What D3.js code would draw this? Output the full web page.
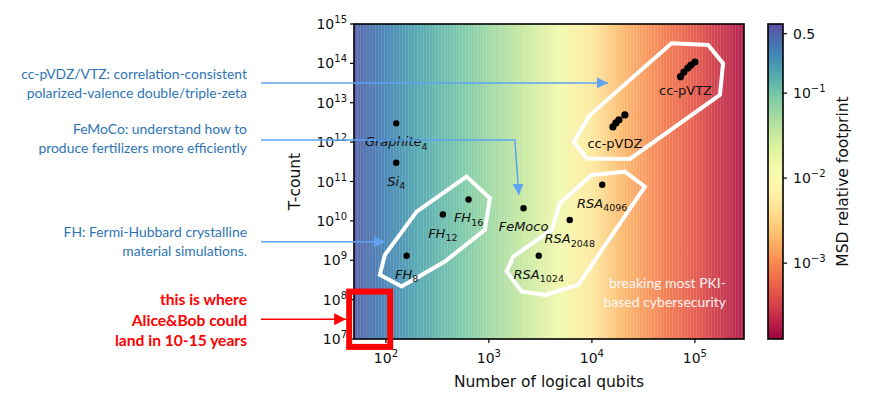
<!DOCTYPE html>
<html><head><meta charset="utf-8">
<script src="https://cdn.jsdelivr.net/npm/d3@7"></script>
<style>
body{margin:0;background:#fff;}
svg{display:block;}
</style></head>
<body>
<svg id="chart" width="874" height="401"></svg>
<script>
// ---------- DATA ----------
const pointNames = ["Graphite", "Si", "FH", "FH", "FH", "FeMoco", "RSA", "RSA", "RSA"];
const pointSubs  = ["4", "4", "8", "12", "16", "", "1024", "2048", "4096"];
const pointQubits = [126, 126, 159, 357, 635, 2170, 3050, 6100, 12600];
const pointTcount = [3.0e12, 3.0e11, 1.3e9, 1.45e10, 3.5e10, 2.1e10, 1.3e9, 1.05e10, 8.3e10];

const ccDZQubits = [16000, 17100, 18300, 20900];
const ccDZTcount = [2.43e12, 3.07e12, 3.66e12, 4.9e12];
const ccTZQubits = [72600, 78200, 85500, 91500, 100000];
const ccTZTcount = [4.6e13, 6.0e13, 7.6e13, 9.1e13, 1.08e14];

const fhHullQ = [607, 1023, 914, 374, 142, 87.4, 97.8, 199];
const fhHullT = [1.33e11, 3.77e10, 5.9e9, 9.3e8, 2.15e8, 4.26e8, 1.37e9, 1.72e10];
const rsaHullQ = [9930, 20900, 32700, 7360, 3500, 2075, 1486, 1722, 4060, 4890];
const rsaHullT = [1.47e11, 1.78e11, 7.4e10, 2.38e8, 1.32e8, 1.61e8, 5.2e8, 1.24e9, 5.9e9, 2.8e10];
const ccHullQ = [59400, 134500, 188000, 175000, 23400, 8940, 6680, 9570];
const ccHullT = [3.24e14, 2.93e14, 1.0e14, 1.58e13, 3.75e11, 3.85e11, 1.01e12, 4.9e12];

// background: MSD relative footprint read along the qubit axis
const bgQubits    = [49, 100, 200, 500, 1000, 2000, 5000, 10000, 20000, 50000, 100000, 300000];
const bgFootprint = [0.5, 0.30, 0.18, 0.10, 0.059, 0.035, 0.013, 0.0052, 0.0020, 0.00083, 0.00046, 0.00017];

const xDomain = [49, 3.0e5];
const yDomain = [1e7, 1e15];
const cbDomain = [1.28e-4, 0.65];

const xTicks = [1e2, 1e3, 1e4, 1e5];
const xTickExp = ["2", "3", "4", "5"];
const yTicks = [1e7, 1e8, 1e9, 1e10, 1e11, 1e12, 1e13, 1e14, 1e15];
const yTickExp = ["7", "8", "9", "10", "11", "12", "13", "14", "15"];
const cbTicks = [0.5, 0.1, 0.01, 0.001];
const cbTickBase = ["0.5", "10", "10", "10"];
const cbTickExp = ["", "\u22121", "\u22122", "\u22123"];

// Alice&Bob target box (qubits, T-count)
const boxQubits = [44, 110];
const boxTcount = [6.3e6, 1.6e8];

// annotation targets (data coords)
const ccArrowTarget = [14300, 3.18e13];
const feArrowElbow = [1786, 1.14e12];
const feArrowTarget = [1955, 4.57e10];
const fhArrowTarget = [98, 2.93e9];

const blueNotes = [
  ["cc-pVDZ/VTZ: correlation-consistent", "polarized-valence double/triple-zeta"],
  ["FeMoCo: understand how to", "produce fertilizers more efficiently"],
  ["FH: Fermi-Hubbard crystalline", "material simulations."]
];
const redNote = ["this is where", "Alice&Bob could", "land in 10-15 years"];
const pkiNote = ["breaking most PKI-", "based cybersecurity"];

// ---------- LAYOUT ----------
const L = 354, R = 744, T = 24, B = 339;
const cbL = 768, cbR = 783;

const svg = d3.select("#chart");
const x = d3.scaleLog().domain(xDomain).range([L, R]);
const y = d3.scaleLog().domain(yDomain).range([B, T]);
const cb = d3.scaleLog().domain(cbDomain).range([B, T]);
const color = v => d3.interpolateSpectral((Math.log10(v) - Math.log10(cbDomain[0])) / (Math.log10(cbDomain[1]) - Math.log10(cbDomain[0])));

const defs = svg.append("defs");
// background gradient
const bg = defs.append("linearGradient").attr("id", "bgGrad")
  .attr("gradientUnits", "userSpaceOnUse").attr("x1", L).attr("x2", R).attr("y1", 0).attr("y2", 0);
bgQubits.forEach((q, i) => {
  bg.append("stop").attr("offset", (x(q) - L) / (R - L)).attr("stop-color", color(bgFootprint[i]));
});
// colorbar gradient
const cg = defs.append("linearGradient").attr("id", "cbGrad")
  .attr("gradientUnits", "userSpaceOnUse").attr("x1", 0).attr("x2", 0).attr("y1", B).attr("y2", T);
d3.range(0, 1.0001, 0.05).forEach(t => cg.append("stop").attr("offset", t).attr("stop-color", d3.interpolateSpectral(t)));
// stripe texture
const pat = defs.append("pattern").attr("id", "stripes").attr("patternUnits", "userSpaceOnUse")
  .attr("width", 3).attr("height", 10);
pat.append("rect").attr("x", 0).attr("y", 0).attr("width", 1).attr("height", 10).attr("fill", "#fff").attr("opacity", 0.12);
// markers
function marker(id, col, size) {
  defs.append("marker").attr("id", id).attr("viewBox", "0 -5 10 10")
    .attr("refX", 10).attr("refY", 0).attr("markerUnits", "userSpaceOnUse")
    .attr("markerWidth", size).attr("markerHeight", size).attr("orient", "auto")
    .append("path").attr("d", "M0,-5L10,0L0,5Z").attr("fill", col);
}
marker("blueHead", "#5ea3f2", 11);
marker("redHead", "#ff0000", 12);

// plot background
svg.append("rect").attr("x", L).attr("y", T).attr("width", R - L).attr("height", B - T).attr("fill", "url(#bgGrad)");
svg.append("rect").attr("x", L).attr("y", T).attr("width", R - L).attr("height", B - T).attr("fill", "#fff").attr("opacity", 0.06);
svg.append("rect").attr("x", L).attr("y", T).attr("width", R - L).attr("height", B - T).attr("fill", "url(#stripes)");

// hulls
const hullLine = d3.line().x(d => x(d[0])).y(d => y(d[1])).curve(d3.curveLinearClosed);
[[fhHullQ, fhHullT], [rsaHullQ, rsaHullT], [ccHullQ, ccHullT]].forEach(([qs, ts]) => {
  svg.append("path").attr("d", hullLine(qs.map((q, i) => [q, ts[i]])))
    .attr("fill", "none").attr("stroke", "#fff").attr("stroke-width", 4).attr("stroke-linejoin", "miter");
});

// points
const ptG = svg.append("g");
pointQubits.forEach((q, i) => {
  ptG.append("circle").attr("cx", x(q)).attr("cy", y(pointTcount[i])).attr("r", 3.2).attr("fill", "#000");
});
ccDZQubits.forEach((q, i) => ptG.append("circle").attr("cx", x(q)).attr("cy", y(ccDZTcount[i])).attr("r", 3.6).attr("fill", "#000"));
ccTZQubits.forEach((q, i) => ptG.append("circle").attr("cx", x(q)).attr("cy", y(ccTZTcount[i])).attr("r", 3.6).attr("fill", "#000"));

// point labels
const lblFont = "DejaVu Sans, sans-serif";
pointQubits.forEach((q, i) => {
  const t = svg.append("text").attr("x", x(q)).attr("y", y(pointTcount[i]) + 23)
    .attr("text-anchor", "middle").attr("font-family", lblFont).attr("font-size", 13)
    .attr("font-style", "italic").attr("fill", "#111");
  t.append("tspan").text(pointNames[i]);
  if (pointSubs[i]) t.append("tspan").attr("font-size", 9.5).attr("font-style", "normal").attr("dy", 3.5).text(pointSubs[i]);
});
svg.append("text").attr("x", x(ccDZQubits[0]) + 2).attr("y", y(ccDZTcount[0]) + 21)
  .attr("text-anchor", "middle").attr("font-family", lblFont).attr("font-size", 13).attr("fill", "#111").text("cc-pVDZ");
svg.append("text").attr("x", x(ccTZQubits[0]) + 5).attr("y", y(ccTZTcount[0]) + 18)
  .attr("text-anchor", "middle").attr("font-family", lblFont).attr("font-size", 13).attr("fill", "#111").text("cc-pVTZ");

// PKI note
pkiNote.forEach((s, i) => {
  svg.append("text").attr("x", 726).attr("y", 288 + i * 19).attr("text-anchor", "end")
    .attr("font-family", "Lato, sans-serif").attr("font-size", 14).attr("fill", "#fff").attr("opacity", 0.92).text(s);
});

// frame
svg.append("rect").attr("x", L).attr("y", T).attr("width", R - L).attr("height", B - T)
  .attr("fill", "none").attr("stroke", "#000").attr("stroke-width", 1.6);

// axes ticks
const tickFont = "DejaVu Sans, sans-serif";
yTicks.forEach((v, i) => {
  svg.append("line").attr("x1", L - 4).attr("x2", L).attr("y1", y(v)).attr("y2", y(v)).attr("stroke", "#000").attr("stroke-width", 1.2);
  const t = svg.append("text").attr("x", L - 7).attr("y", y(v) + 5).attr("text-anchor", "end")
    .attr("font-family", tickFont).attr("font-size", 14).attr("fill", "#111");
  t.append("tspan").text("10");
  t.append("tspan").attr("font-size", 10).attr("dy", -6).text(yTickExp[i]);
});
xTicks.forEach((v, i) => {
  svg.append("line").attr("x1", x(v)).attr("x2", x(v)).attr("y1", B).attr("y2", B + 4).attr("stroke", "#000").attr("stroke-width", 1.2);
  const t = svg.append("text").attr("x", x(v)).attr("y", 363).attr("text-anchor", "middle")
    .attr("font-family", tickFont).attr("font-size", 14).attr("fill", "#111");
  t.append("tspan").text("10");
  t.append("tspan").attr("font-size", 10).attr("dy", -6).text(xTickExp[i]);
});
svg.append("text").attr("x", (L + R) / 2).attr("y", 387).attr("text-anchor", "middle")
  .attr("font-family", tickFont).attr("font-size", 15.5).attr("fill", "#111").text("Number of logical qubits");
svg.append("text").attr("transform", `translate(300,${(T + B) / 2}) rotate(-90)`).attr("text-anchor", "middle")
  .attr("font-family", tickFont).attr("font-size", 15.5).attr("fill", "#111").text("T-count");

// colorbar
svg.append("rect").attr("x", cbL).attr("y", T).attr("width", cbR - cbL).attr("height", B - T).attr("fill", "url(#cbGrad)")
  .attr("stroke", "#000").attr("stroke-width", 1.6);
cbTicks.forEach((v, i) => {
  svg.append("line").attr("x1", cbR).attr("x2", cbR + 4).attr("y1", cb(v)).attr("y2", cb(v)).attr("stroke", "#000").attr("stroke-width", 1.2);
  const t = svg.append("text").attr("x", cbR + 10).attr("y", cb(v) + 5)
    .attr("font-family", tickFont).attr("font-size", 14).attr("fill", "#111");
  t.append("tspan").text(cbTickBase[i]);
  if (cbTickExp[i]) t.append("tspan").attr("font-size", 10).attr("dy", -6).text(cbTickExp[i]);
});
svg.append("text").attr("transform", `translate(848,${(T + B) / 2}) rotate(-90)`).attr("text-anchor", "middle")
  .attr("font-family", tickFont).attr("font-size", 15.5).attr("fill", "#111").text("MSD relative footprint");

// red box
svg.append("rect").attr("x", x(boxQubits[0])).attr("y", y(boxTcount[1]))
  .attr("width", x(boxQubits[1]) - x(boxQubits[0])).attr("height", y(boxTcount[0]) - y(boxTcount[1]))
  .attr("fill", "none").attr("stroke", "#ff0000").attr("stroke-width", 6);

// annotation arrows
const noteX = 261;
const blue = "#5ea3f2";
svg.append("path").attr("d", d3.line()([[noteX, y(ccArrowTarget[1])], [x(ccArrowTarget[0]), y(ccArrowTarget[1])]]))
  .attr("stroke", blue).attr("stroke-width", 1.5).attr("fill", "none").attr("marker-end", "url(#blueHead)");
svg.append("path").attr("d", d3.line()([[noteX, y(feArrowElbow[1])], [x(feArrowElbow[0]), y(feArrowElbow[1])], [x(feArrowTarget[0]), y(feArrowTarget[1])]]))
  .attr("stroke", blue).attr("stroke-width", 1.5).attr("fill", "none").attr("marker-end", "url(#blueHead)");
svg.append("path").attr("d", d3.line()([[noteX, y(fhArrowTarget[1])], [x(fhArrowTarget[0]), y(fhArrowTarget[1])]]))
  .attr("stroke", blue).attr("stroke-width", 1.5).attr("fill", "none").attr("marker-end", "url(#blueHead)");
const boxMid = Math.sqrt(boxTcount[0] * boxTcount[1]);
svg.append("path").attr("d", d3.line()([[noteX, y(boxMid)], [x(boxQubits[0]) - 3, y(boxMid)]]))
  .attr("stroke", "#ff0000").attr("stroke-width", 1.5).attr("fill", "none").attr("marker-end", "url(#redHead)");

// notes text
const noteFont = "Lato, 'Open Sans', sans-serif";
const blueY = [79, 134, 237];
blueNotes.forEach((lines, k) => {
  lines.forEach((s, j) => {
    svg.append("text").attr("x", 247).attr("y", blueY[k] + j * 18.5).attr("text-anchor", "end")
      .attr("font-family", noteFont).attr("font-size", 13.9).attr("fill", "#2e75b6").text(s);
  });
});
redNote.forEach((s, j) => {
  svg.append("text").attr("x", 247).attr("y", 305 + j * 20.5).attr("text-anchor", "end")
    .attr("font-family", noteFont).attr("font-weight", "bold").attr("font-size", 15.6).attr("fill", "#ff0000").text(s);
});
</script>
</body></html>
